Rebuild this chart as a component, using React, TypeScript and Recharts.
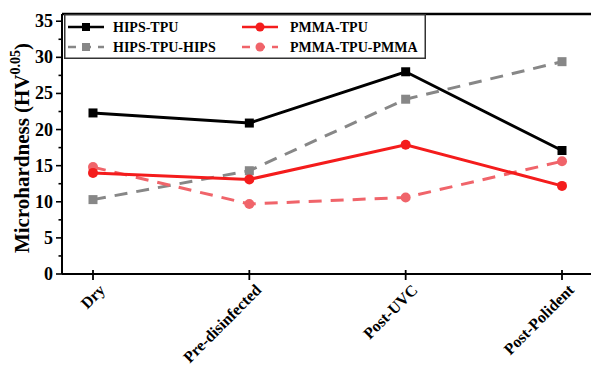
import React from "react";
import { LineChart, Line, XAxis, YAxis, ReferenceLine } from "recharts";

const categories = ["Dry", "Pre-disinfected", "Post-UVC", "Post-Polident"];
const hipsTpu = [22.3, 20.9, 28.0, 17.1];
const hipsTpuHips = [10.3, 14.3, 24.2, 29.4];
const pmmaTpu = [14.0, 13.1, 17.9, 12.2];
const pmmaTpuPmma = [14.8, 9.7, 10.6, 15.6];
const yTicks = [0, 2.5, 5, 7.5, 10, 12.5, 15, 17.5, 20, 22.5, 25, 27.5, 30, 32.5, 35];

const data = categories.map((c, i) => ({
  name: c,
  hipsTpu: hipsTpu[i],
  hipsTpuHips: hipsTpuHips[i],
  pmmaTpu: pmmaTpu[i],
  pmmaTpuPmma: pmmaTpuPmma[i],
}));

const FONT = "Liberation Serif";
const BLACK = "#000000";
const GRAY = "#878787";
const RED = "#f41c1c";
const LRED = "#f0646a";

const Square = (color: string) => (props: any) => {
  const { cx, cy, index } = props;
  if (cx == null || cy == null) return null;
  return <rect key={index} x={cx - 4.5} y={cy - 4.5} width={9} height={9} fill={color} />;
};
const Circle = (color: string) => (props: any) => {
  const { cx, cy, index } = props;
  if (cx == null || cy == null) return null;
  return <circle key={index} cx={cx} cy={cy} r={5} fill={color} />;
};

const YTick = (props: any) => {
  const { x, y, payload } = props;
  const v = payload.value;
  const major = v % 5 === 0;
  return (
    <g>
      <line x1={x} x2={x - (major ? 6 : 3.5)} y1={y} y2={y} stroke="#000" strokeWidth={1.6} />
      {major && (
        <text x={x - 9} y={y} dy={6} textAnchor="end" fontFamily={FONT} fontWeight="bold" fontSize={18} fill="#000">
          {v}
        </text>
      )}
    </g>
  );
};

const XTick = (props: any) => {
  const { x, y, payload } = props;
  const tx = x + 13;
  const ty = y + 17;
  return (
    <g>
      <line x1={x} x2={x} y1={y - 4} y2={y + 6} stroke="#000" strokeWidth={1.8} />
      <text
        x={tx}
        y={ty}
        textAnchor="end"
        fontFamily={FONT}
        fontWeight="bold"
        fontSize={16}
        fill="#000"
        transform={`rotate(-45 ${tx} ${ty})`}
      >
        {payload.value}
      </text>
    </g>
  );
};

const YLabel = () => (
  <text
    x={0}
    y={0}
    transform="translate(29 148) rotate(-90)"
    textAnchor="middle"
    fontFamily={FONT}
    fontWeight="bold"
    fontSize={21}
    fill="#000"
  >
    <tspan>Microhardness (HV</tspan>
    <tspan fontSize={14} dy={-9}>0.05</tspan>
    <tspan dy={9}>)</tspan>
  </text>
);

const legendItems = [
  { label: "HIPS-TPU", color: BLACK, dash: undefined as string | undefined, shape: "square", col: 0, row: 0 },
  { label: "PMMA-TPU", color: RED, dash: undefined, shape: "circle", col: 1, row: 0 },
  { label: "HIPS-TPU-HIPS", color: GRAY, dash: "8 7", shape: "square", col: 0, row: 1 },
  { label: "PMMA-TPU-PMMA", color: LRED, dash: "8 7", shape: "circle", col: 1, row: 1 },
];

const LegendBox = () => (
  <svg width={362} height={45} style={{ display: "block" }}>
    <rect x={0.75} y={0.75} width={360.5} height={43.5} fill="#fff" stroke="#333" strokeWidth={1.5} />
    {legendItems.map((it) => {
      const x0 = it.col === 0 ? 4 : 178;
      const cy = it.row === 0 ? 13 : 33;
      const mx = x0 + 18;
      return (
        <g key={it.label}>
          <line x1={x0} x2={x0 + 36} y1={cy} y2={cy} stroke={it.color} strokeWidth={2.5} strokeDasharray={it.dash} />
          {it.shape === "square" ? (
            <rect x={mx - 4} y={cy - 4} width={8} height={8} fill={it.color} />
          ) : (
            <circle cx={mx} cy={cy} r={4.5} fill={it.color} />
          )}
          <text x={it.col === 0 ? 49 : 226} y={cy} dy={5} fontFamily={FONT} fontWeight="bold" fontSize={14} fill="#000">
            {it.label}
          </text>
        </g>
      );
    })}
  </svg>
);

export default function App() {
  return (
    <div style={{ position: "absolute", left: 0, top: 0, width: 591, height: 367, background: "#fff" }}>
      <LineChart width={591} height={367} data={data} margin={{ top: 14, right: 0, bottom: 33, left: 0 }}>
        <XAxis
          dataKey="name"
          height={60}
          padding={{ left: 31, right: 29 }}
          axisLine={{ stroke: "#000", strokeWidth: 2 }}
          tickLine={false}
          tickSize={0}
          tickMargin={0}
          tick={<XTick />}
          interval={0}
        />
        <YAxis
          width={62}
          domain={[0, 36]}
          ticks={yTicks}
          allowDataOverflow
          axisLine={{ stroke: "#000", strokeWidth: 2 }}
          tickLine={false}
          tickSize={0}
          tickMargin={0}
          tick={<YTick />}
          interval={0}
          label={<YLabel />}
        />
        <ReferenceLine y={36} stroke="#000" strokeWidth={2.5} />
        <Line dataKey="hipsTpuHips" stroke={GRAY} strokeWidth={3} strokeDasharray="13 9" dot={Square(GRAY)} isAnimationActive={false} />
        <Line dataKey="pmmaTpuPmma" stroke={LRED} strokeWidth={3} strokeDasharray="13 9" dot={Circle(LRED)} isAnimationActive={false} />
        <Line dataKey="hipsTpu" stroke={BLACK} strokeWidth={3} dot={Square(BLACK)} isAnimationActive={false} />
        <Line dataKey="pmmaTpu" stroke={RED} strokeWidth={3} dot={Circle(RED)} isAnimationActive={false} />
      </LineChart>
      <div style={{ position: "absolute", left: 64, top: 14 }}>
        <LegendBox />
      </div>
    </div>
  );
}
